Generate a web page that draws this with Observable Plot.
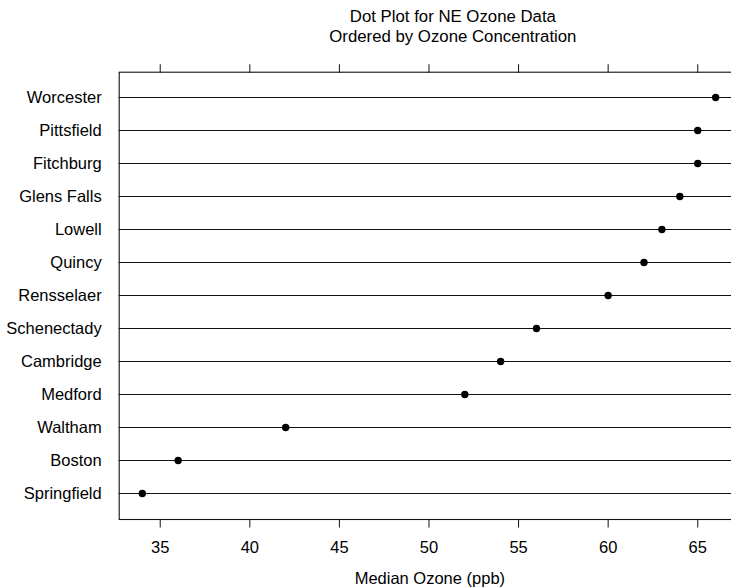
<!DOCTYPE html>
<html>
<head>
<meta charset="utf-8">
<script src="https://cdn.jsdelivr.net/npm/d3@7"></script>
<script src="https://cdn.jsdelivr.net/npm/@observablehq/plot@0.6"></script>
<style>
  html, body { margin: 0; padding: 0; background: #fff; }
  #chart svg { display: block; }
</style>
</head>
<body>
<div id="chart"></div>
<script>
const cities = ["Worcester", "Pittsfield", "Fitchburg", "Glens Falls", "Lowell", "Quincy", "Rensselaer", "Schenectady", "Cambridge", "Medford", "Waltham", "Boston", "Springfield"];
const ozone = [66, 65, 65, 64, 63, 62, 60, 56, 54, 52, 42, 36, 34];
const xTicks = [35, 40, 45, 50, 55, 60, 65];
const titleLines = ["Dot Plot for NE Ozone Data", "Ordered by Ozone Concentration"];
const xLabel = "Median Ozone (ppb)";

const data = cities.map((c, i) => ({city: c, value: ozone[i]}));
const font = "Liberation Sans, Arial, Helvetica, sans-serif";

const chart = Plot.plot({
  width: 731,
  height: 588,
  marginLeft: 118.7,
  marginRight: -1,
  marginTop: 71.7,
  marginBottom: 69,
  style: {fontFamily: font, fontSize: "16.5px", color: "#000", background: "#fff"},
  x: {domain: [32.71, 66.94], ticks: xTicks},
  y: {type: "point", domain: cities, padding: 0.74},
  marks: [
    Plot.ruleY(data, {y: "city", stroke: "#111", strokeWidth: 1.1}),
    Plot.frame({stroke: "#111", strokeWidth: 1.1}),
    Plot.axisX({anchor: "bottom", ticks: xTicks, tickSize: 8.5, tickPadding: 13, label: null, fontSize: 16.5, stroke: "#111"}),
    Plot.axisX({anchor: "top", ticks: xTicks, tickSize: 8.5, tickFormat: () => "", label: null, stroke: "#111"}),
    Plot.axisY({anchor: "left", tickSize: 0, tickPadding: 17.5, label: null, fontSize: 16.5}),
    Plot.dot(data, {x: "value", y: "city", r: 3.7, fill: "#000", stroke: null}),
    Plot.text([titleLines[0]], {frameAnchor: "top", dx: 27, dy: -62, fontSize: 16.8, fill: "#000"}),
    Plot.text([titleLines[1]], {frameAnchor: "top", dx: 27, dy: -42.5, fontSize: 16.8, fill: "#000"}),
    Plot.text([xLabel], {frameAnchor: "bottom", dx: 4, dy: 64, fontSize: 16.5, fill: "#000"})
  ]
});
document.getElementById("chart").appendChild(chart);
</script>
</body>
</html>
